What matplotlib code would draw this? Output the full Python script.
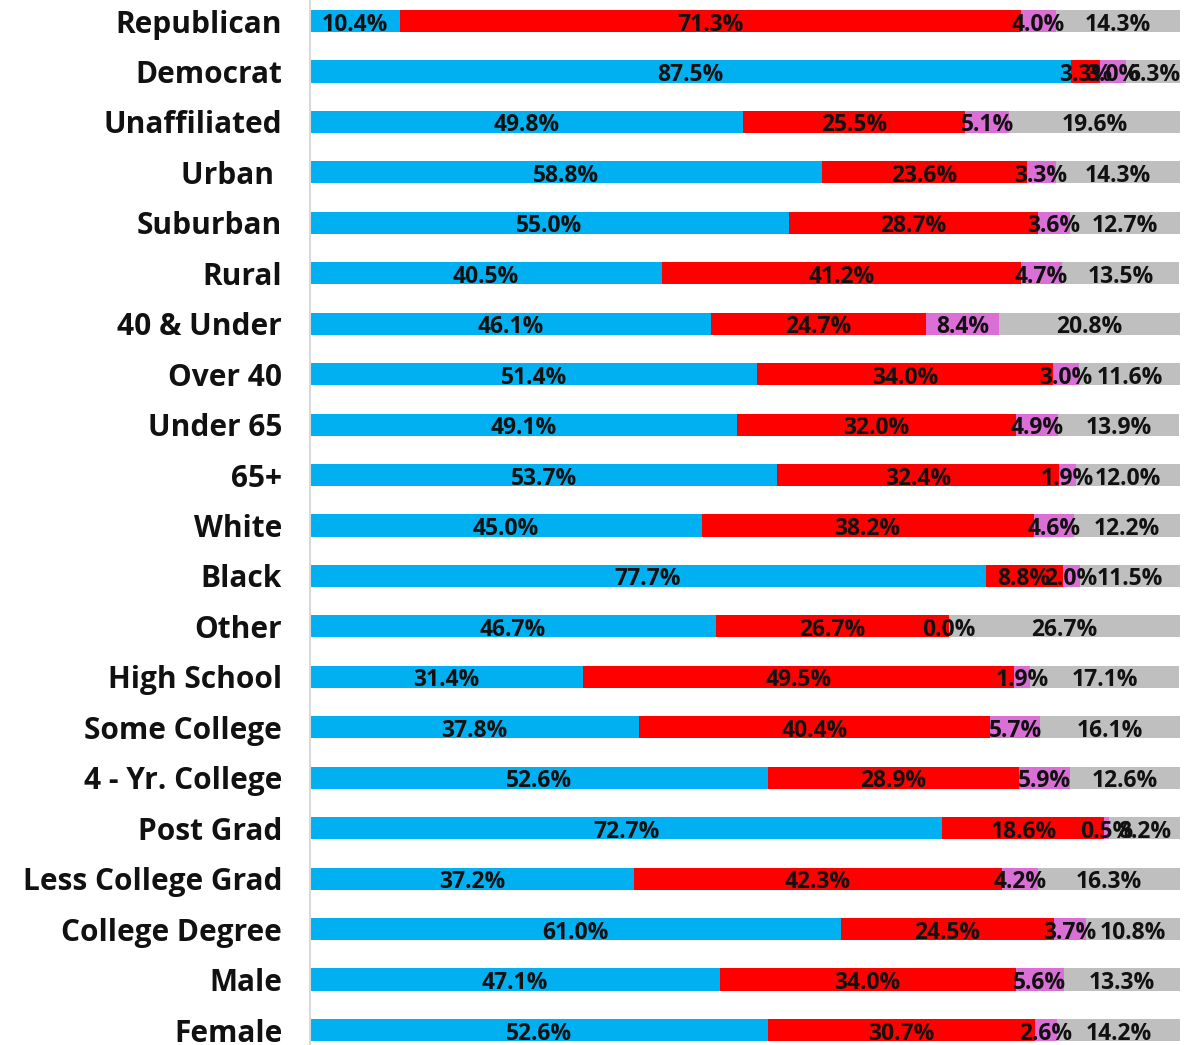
import matplotlib
matplotlib.use("Agg")
import matplotlib.pyplot as plt
import numpy as np

categories = ["Republican", "Democrat", "Unaffiliated", "Urban ", "Suburban", "Rural",
              "40 & Under", "Over 40", "Under 65", "65+", "White", "Black", "Other",
              "High School", "Some College", "4 - Yr. College", "Post Grad",
              "Less College Grad", "College Degree", "Male", "Female"]
blue = [10.4, 87.5, 49.8, 58.8, 55.0, 40.5, 46.1, 51.4, 49.1, 53.7, 45.0, 77.7, 46.7,
        31.4, 37.8, 52.6, 72.7, 37.2, 61.0, 47.1, 52.6]
red = [71.3, 3.3, 25.5, 23.6, 28.7, 41.2, 24.7, 34.0, 32.0, 32.4, 38.2, 8.8, 26.7,
       49.5, 40.4, 28.9, 18.6, 42.3, 24.5, 34.0, 30.7]
pink = [4.0, 3.0, 5.1, 3.3, 3.6, 4.7, 8.4, 3.0, 4.9, 1.9, 4.6, 2.0, 0.0,
        1.9, 5.7, 5.9, 0.5, 4.2, 3.7, 5.6, 2.6]
gray = [14.3, 6.3, 19.6, 14.3, 12.7, 13.5, 20.8, 11.6, 13.9, 12.0, 12.2, 11.5, 26.7,
        17.1, 16.1, 12.6, 8.2, 16.3, 10.8, 13.3, 14.2]

series = [blue, red, pink, gray]
colors = ["#00B0F0", "#FF0000", "#DA70D6", "#BFBFBF"]

plt.rcParams['font.family'] = ['Open Sans', 'DejaVu Sans']

fig = plt.figure(figsize=(11.99, 10.45), dpi=100)
ax = fig.add_axes([310/1199, 0.0, (1180-310)/1199, 1.0])

y = np.arange(len(categories))
left = np.zeros(len(categories))
for vals, c in zip(series, colors):
    vals = np.array(vals)
    ax.barh(y, vals, left=left, height=0.44, color=c, edgecolor='none')
    for yi, (l, v) in enumerate(zip(left, vals)):
        ax.text(l + v/2, yi + 0.07, f"{v:.1f}%", ha='center', va='center',
                fontsize=16.5, fontweight='bold', color='#111111')
    left = left + vals

ax.set_xlim(0, 100)
ax.set_ylim(20 + 15/50.45, -21/50.45)
ax.set_yticks(y)
ax.set_yticklabels(categories, fontsize=21.5, fontweight='bold', color='#111111')
ax.tick_params(axis='y', length=0, pad=20)
ax.set_xticks([])
for s in ['top', 'right', 'bottom']:
    ax.spines[s].set_visible(False)
ax.spines['left'].set_color('#D9D9D9')
ax.spines['left'].set_linewidth(1.5)

fig.savefig("out.png", dpi=100)
